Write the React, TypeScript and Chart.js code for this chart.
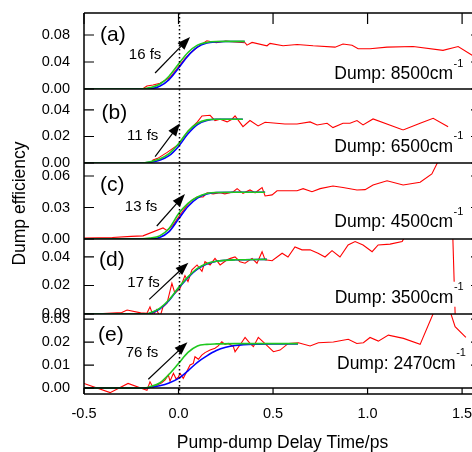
import React, { useEffect, useRef } from "react";
import { Chart, registerables } from "chart.js";

Chart.register(...registerables);

const FONT = '"Liberation Sans", Arial, Helvetica, sans-serif';

// ---------- axis ticks ----------
const xTicks = [-0.5, 0, 0.5, 1.0, 1.5];
const aTicks = [0, 0.04, 0.08];
const bTicks = [0, 0.02, 0.04];
const cTicks = [0, 0.03, 0.06];
const dTicks = [0, 0.02, 0.04];
const eTicks = [0, 0.01, 0.02, 0.03];

// ---------- text ----------
const panelLetters = ["(a)", "(b)", "(c)", "(d)", "(e)"];
const fitTimes = ["16 fs", "11 fs", "13 fs", "17 fs", "76 fs"];
const dumpLabels = ["Dump: 8500cm", "Dump: 6500cm", "Dump: 4500cm", "Dump: 3500cm", "Dump: 2470cm"];
const xTitle = "Pump-dump Delay Time/ps";
const yTitle = "Dump efficiency";

// ---------- panel (a) ----------
const aRedT = [-0.5,-0.45,-0.4,-0.35,-0.3,-0.26,-0.235,-0.21,-0.185,-0.167,-0.135,-0.098,-0.045,0,0.034,0.061,0.114,0.15,0.2,0.25,0.3,0.352,0.362,0.389,0.468,0.484,0.553,0.627,0.712,0.828,0.87,0.918,0.95,1.013,1.103,1.241,1.399,1.479,1.553,1.6];
const aRedV = [0,0.0002,0,0.0002,0,0.0002,-0.0018,-0.0022,0.001,0.0044,0.006,0.0084,0.017,0.033,0.045,0.053,0.065,0.0715,0.0686,0.071,0.0696,0.0686,0.065,0.069,0.064,0.0676,0.064,0.066,0.064,0.062,0.0666,0.0647,0.0597,0.0597,0.062,0.063,0.0573,0.063,0.05,0.045];
const aFitT = [-0.5,-0.2,-0.15,-0.1,-0.05,0,0.05,0.1,0.15,0.2,0.25,0.35];
const aGreenV = [0,0,0.002,0.007,0.019,0.037,0.054,0.065,0.069,0.0703,0.0705,0.0705];
const aBlueV = [0,0,0.0005,0.004,0.014,0.031,0.049,0.062,0.068,0.0698,0.0703,0.0703];

// ---------- panel (b) ----------
const bRedT = [-0.5,-0.45,-0.4,-0.35,-0.3,-0.26,-0.241,-0.22,-0.195,-0.168,-0.151,-0.135,-0.11,-0.06,0,0.05,0.1,0.124,0.167,0.193,0.22,0.257,0.283,0.299,0.341,0.378,0.421,0.458,0.563,0.627,0.696,0.733,0.786,0.817,0.87,0.907,0.944,0.976,1.029,1.188,1.278,1.347,1.426];
const bRedV = [0,0.0003,0,0.0002,0,0.0002,-0.0015,0,-0.002,0,-0.0015,0.0023,0.0035,0.008,0.014,0.024,0.031,0.0355,0.036,0.032,0.033,0.031,0.033,0.0355,0.0274,0.032,0.028,0.0307,0.0294,0.0294,0.031,0.0287,0.03,0.0267,0.03,0.03,0.032,0.0287,0.0332,0.0249,0.03,0.0337,0.0274];
const bFitT = [-0.5,-0.2,-0.15,-0.1,-0.05,0,0.05,0.1,0.15,0.2,0.34];
const bGreenV = [0,0,0.001,0.003,0.007,0.0145,0.024,0.03,0.0325,0.033,0.033];
const bBlueV = [0,0,0.0005,0.002,0.0055,0.0125,0.022,0.029,0.032,0.033,0.033];

// ---------- panel (c) ----------
const cRedT = [-0.5,-0.35,-0.25,-0.188,-0.082,-0.06,-0.03,0,0.045,0.071,0.098,0.13,0.151,0.183,0.22,0.245,0.272,0.29,0.31,0.341,0.378,0.405,0.442,0.458,0.495,0.521,0.627,0.659,0.706,0.749,0.817,0.87,0.944,0.987,1.029,1.103,1.188,1.278,1.34,1.39];
const cRedV = [0.001,0.0015,0.0025,0.003,0.0105,0.008,0.013,0.021,0.032,0.037,0.04,0.04,0.044,0.043,0.044,0.043,0.044,0.045,0.048,0.0435,0.0467,0.044,0.049,0.041,0.042,0.046,0.046,0.048,0.045,0.048,0.0505,0.049,0.0467,0.047,0.0514,0.0555,0.0514,0.054,0.062,0.08];
const cFitT = [-0.5,-0.2,-0.15,-0.1,-0.05,0,0.05,0.1,0.15,0.2,0.3,0.458];
const cGreenV = [0,0,0.0008,0.003,0.01,0.024,0.034,0.04,0.0433,0.0443,0.0445,0.0445];
const cBlueV = [0,0,0.0003,0.0015,0.007,0.019,0.031,0.039,0.043,0.0443,0.0445,0.0445];

// ---------- panel (d) ----------
const dRedT = [-0.5,-0.4,-0.3,-0.272,-0.2,-0.167,-0.151,-0.135,-0.116,-0.098,-0.082,-0.061,-0.035,-0.019,0.008,0.034,0.05,0.071,0.098,0.124,0.14,0.167,0.193,0.22,0.257,0.275,0.299,0.325,0.352,0.389,0.415,0.442,0.458,0.495,0.548,0.579,0.616,0.653,0.696,0.738,0.775,0.812,0.854,0.897,0.934,0.976,1.024,1.056,1.119,1.183,1.22,1.35,1.45,1.465,1.52];
const dRedV = [0,0.0003,0.001,0.0028,0.0008,0.0005,0.005,-0.001,0.003,-0.002,0.005,0.0075,0.0215,0.0145,0.018,0.027,0.0227,0.031,0.0344,0.03,0.0367,0.0344,0.039,0.0344,0.038,0.039,0.04,0.0367,0.0356,0.039,0.0356,0.0437,0.038,0.0374,0.0426,0.04,0.047,0.045,0.045,0.0426,0.04,0.0444,0.04,0.0484,0.0508,0.0484,0.0437,0.0484,0.049,0.0508,0.06,0.062,0.058,-0.008,-0.01];
const dFitT = [-0.5,-0.17,-0.15,-0.1,-0.05,0,0.05,0.1,0.15,0.2,0.3,0.467];
const dGreenV = [0,0,0.0008,0.004,0.01,0.0185,0.026,0.032,0.0355,0.037,0.038,0.0383];
const dBlueV = [0,0,0.0005,0.0035,0.0095,0.018,0.0255,0.0315,0.035,0.037,0.038,0.0383];

// ---------- panel (e) ----------
const eRedT = [-0.5,-0.362,-0.267,-0.167,-0.151,-0.135,-0.089,-0.071,-0.054,-0.045,-0.027,-0.013,-0.001,0.008,0.025,0.043,0.061,0.078,0.087,0.105,0.123,0.14,0.167,0.193,0.21,0.229,0.246,0.263,0.29,0.299,0.325,0.352,0.378,0.396,0.422,0.449,0.502,0.537,0.581,0.634,0.696,0.74,0.819,0.898,0.943,0.978,1.013,1.057,1.11,1.19,1.278,1.4,1.463,1.52];
const eRedV = [0.002,-0.002,0.002,-0.001,0.0027,0.0003,0.0023,0.0035,0.0057,0.003,0.0064,0.004,0.0047,0.0064,0.0042,0.0071,0.01,0.0107,0.0136,0.0125,0.0143,0.0154,0.0165,0.0173,0.0183,0.0201,0.019,0.0194,0.018,0.0158,0.0187,0.022,0.0194,0.018,0.022,0.02,0.0158,0.0165,0.0194,0.0197,0.0183,0.0197,0.02,0.0212,0.0194,0.0197,0.022,0.0204,0.023,0.0216,0.019,0.0426,0.0267,0.022];
const eGreenT = [-0.5,-0.18,-0.15,-0.1,-0.05,0,0.05,0.1,0.15,0.2,0.3,0.632];
const eGreenV = [0,0,0.0006,0.0022,0.006,0.0107,0.0155,0.0183,0.019,0.0192,0.0193,0.0193];
const eBlueT = [-0.5,-0.17,-0.15,-0.1,-0.05,0,0.05,0.1,0.15,0.2,0.25,0.3,0.4,0.5,0.632];
const eBlueV = [0,0,0.0003,0.001,0.0022,0.0042,0.0075,0.0112,0.014,0.0163,0.0177,0.0185,0.0191,0.0192,0.0192];

const pts = (t: number[], v: number[]) => t.map((x, i) => ({ x, y: v[i] }));

// annotation anchors in data coordinates of each panel
const annotations = [
  { arrow: [-0.124, 0.0237, 0.061, 0.077], fit: [-0.177, 0.0503], letter: [-0.415, 0.0792], dump: [1.452, 0.0148] },
  { arrow: [-0.124, 0.0048, 0.008, 0.030], fit: [-0.19, 0.0204], letter: [-0.407, 0.0378], dump: [1.452, 0.0085] },
  { arrow: [-0.115, 0.0124, 0.034, 0.0428], fit: [-0.198, 0.0305], letter: [-0.415, 0.0514], dump: [1.452, 0.0111] },
  { arrow: [-0.155, 0.0103, 0.052, 0.036], fit: [-0.185, 0.0221], letter: [-0.42, 0.0379], dump: [1.454, 0.0079] },
  { arrow: [-0.16, 0.0038, 0.047, 0.0199], fit: [-0.193, 0.0154], letter: [-0.426, 0.0231], dump: [1.466, 0.0083] },
];

const panels = [
  { id: "ya", min: 0, max: 0.1126, ticks: aTicks, h: 76, red: pts(aRedT, aRedV), green: pts(aFitT, aGreenV), blue: pts(aFitT, aBlueV) },
  { id: "yb", min: 0, max: 0.0558, ticks: bTicks, h: 74, red: pts(bRedT, bRedV), green: pts(bFitT, bGreenV), blue: pts(bFitT, bBlueV) },
  { id: "yc", min: 0, max: 0.0724, ticks: cTicks, h: 76, red: pts(cRedT, cRedV), green: pts(cFitT, cGreenV), blue: pts(cFitT, cBlueV) },
  { id: "yd", min: 0, max: 0.0526, ticks: dTicks, h: 75, red: pts(dRedT, dRedV), green: pts(dFitT, dGreenV), blue: pts(dFitT, dBlueV) },
  { id: "ye", min: -0.0026, max: 0.0322, ticks: eTicks, h: 80, red: pts(eRedT, eRedV), green: pts(eGreenT, eGreenV), blue: pts(eBlueT, eBlueV) },
];

function drawArrow(ctx: CanvasRenderingContext2D, x1: number, y1: number, x2: number, y2: number) {
  const ang = Math.atan2(y2 - y1, x2 - x1);
  const L = 13, W = 4.8;
  const bx = x2 - L * Math.cos(ang), by = y2 - L * Math.sin(ang);
  ctx.beginPath();
  ctx.moveTo(x1, y1);
  ctx.lineTo(bx + 2 * Math.cos(ang), by + 2 * Math.sin(ang));
  ctx.stroke();
  ctx.beginPath();
  ctx.moveTo(x2, y2);
  ctx.lineTo(bx + W * Math.sin(ang), by - W * Math.cos(ang));
  ctx.lineTo(bx - W * Math.sin(ang), by + W * Math.cos(ang));
  ctx.closePath();
  ctx.fill();
}

const decoPlugin = {
  id: "deco",
  afterDatasetsDraw(chart: any) {
    const { ctx, chartArea: ca, scales } = chart;
    const xs = scales.x;
    ctx.save();
    // dotted line at t = 0
    ctx.strokeStyle = "#000";
    ctx.lineWidth = 1.5;
    ctx.setLineDash([1.5, 2.5]);
    const x0 = Math.round(xs.getPixelForValue(0)) + 0.5;
    ctx.beginPath();
    ctx.moveTo(x0, ca.top);
    ctx.lineTo(x0, ca.bottom);
    ctx.stroke();
    ctx.setLineDash([]);

    // frame and zero lines
    ctx.lineWidth = 1.5;
    ctx.beginPath();
    ctx.moveTo(ca.left, ca.top); ctx.lineTo(ca.right, ca.top);
    ctx.moveTo(ca.left, ca.top); ctx.lineTo(ca.left, ca.bottom);
    ctx.moveTo(ca.right, ca.top); ctx.lineTo(ca.right, ca.bottom);
    ctx.moveTo(ca.left, ca.bottom); ctx.lineTo(ca.right, ca.bottom);
    panels.forEach((p) => {
      const y = scales[p.id].getPixelForValue(0);
      ctx.moveTo(ca.left, y); ctx.lineTo(ca.right, y);
    });
    ctx.stroke();

    // ticks
    ctx.lineWidth = 1.2;
    ctx.beginPath();
    panels.forEach((p) => {
      p.ticks.forEach((v) => {
        const y = scales[p.id].getPixelForValue(v);
        ctx.moveTo(ca.left, y); ctx.lineTo(ca.left + 10, y);
        ctx.moveTo(ca.right - 10, y); ctx.lineTo(ca.right, y);
      });
    });
    xTicks.forEach((t) => {
      const x = xs.getPixelForValue(t);
      ctx.moveTo(x, ca.top); ctx.lineTo(x, ca.top + 11);
      ctx.moveTo(x, ca.bottom); ctx.lineTo(x, ca.bottom - 6);
    });
    ctx.stroke();

    // annotations
    ctx.fillStyle = "#000";
    ctx.strokeStyle = "#000";
    panels.forEach((p, i) => {
      const ys = scales[p.id];
      const an = annotations[i];
      ctx.lineWidth = 1.2;
      drawArrow(ctx, xs.getPixelForValue(an.arrow[0]), ys.getPixelForValue(an.arrow[1]),
        xs.getPixelForValue(an.arrow[2]), ys.getPixelForValue(an.arrow[3]));

      ctx.font = `15px ${FONT}`;
      ctx.textAlign = "center";
      ctx.textBaseline = "middle";
      ctx.fillText(fitTimes[i], xs.getPixelForValue(an.fit[0]), ys.getPixelForValue(an.fit[1]));

      ctx.font = `21px ${FONT}`;
      ctx.textAlign = "left";
      ctx.fillText(panelLetters[i], xs.getPixelForValue(an.letter[0]), ys.getPixelForValue(an.letter[1]));

      const dx = xs.getPixelForValue(an.dump[0]);
      const dy = ys.getPixelForValue(an.dump[1]);
      ctx.font = `17.5px ${FONT}`;
      const w = ctx.measureText(dumpLabels[i]).width;
      ctx.font = `11px ${FONT}`;
      const sw = ctx.measureText("-1").width;
      ctx.fillStyle = "#fff";
      ctx.fillRect(dx - w - 2, dy - 21, w + sw + 5, 25);
      ctx.fillStyle = "#000";
      ctx.font = `17.5px ${FONT}`;
      ctx.textAlign = "right";
      ctx.textBaseline = "alphabetic";
      ctx.fillText(dumpLabels[i], dx, dy);
      ctx.font = `11px ${FONT}`;
      ctx.textAlign = "left";
      ctx.fillText("-1", dx + 0.5, dy - 12.5);
    });

    // axis titles
    ctx.font = `17.5px ${FONT}`;
    ctx.textAlign = "center";
    ctx.textBaseline = "alphabetic";
    ctx.fillText(xTitle, (ca.left + ca.right) / 2, ca.bottom + 54);
    ctx.translate(12, (ca.top + ca.bottom) / 2);
    ctx.rotate(-Math.PI / 2);
    ctx.textBaseline = "middle";
    ctx.fillText(yTitle, 0, 0);
    ctx.restore();
  },
};

export default function App() {
  const ref = useRef<HTMLCanvasElement | null>(null);
  useEffect(() => {
    if (!ref.current) return;
    const datasets: any[] = [];
    panels.forEach((p) => {
      datasets.push({ data: p.green, yAxisID: p.id, borderColor: "#1fc81f", borderWidth: 1.6, pointRadius: 0, cubicInterpolationMode: "monotone", order: 1 });
      datasets.push({ data: p.blue, yAxisID: p.id, borderColor: "#0000ff", borderWidth: 1.6, pointRadius: 0, cubicInterpolationMode: "monotone", order: 2 });
      datasets.push({ data: p.red, yAxisID: p.id, borderColor: "#ff0000", borderWidth: 1.1, pointRadius: 0, tension: 0, order: 3 });
    });
    const scales: any = {
      x: {
        type: "linear",
        position: "bottom",
        min: -0.5,
        max: 1.6,
        grid: { display: false },
        border: { display: false },
        afterBuildTicks: (s: any) => { s.ticks = xTicks.map((value) => ({ value })); },
        afterFit: (s: any) => { s.height = 58; s.paddingLeft = 0; s.paddingRight = 0; },
        ticks: {
          autoSkip: false,
          maxRotation: 0,
          padding: 3,
          color: "#000",
          font: { family: FONT, size: 14.5 },
          callback: (v: any) => Number(v).toFixed(1),
        },
      },
    };
    panels.forEach((p, i) => {
      scales[p.id] = {
        type: "linear",
        position: "left",
        stack: "panels",
        stackWeight: p.h,
        weight: 10 - i,
        min: p.min,
        max: p.max,
        grid: { display: false },
        border: { display: false },
        afterBuildTicks: (s: any) => { s.ticks = p.ticks.map((value) => ({ value })); },
        afterFit: (s: any) => { s.width = 76; s.paddingTop = 0; s.paddingBottom = 0; },
        ticks: {
          autoSkip: false,
          padding: 6,
          color: "#000",
          font: { family: FONT, size: 14.5 },
          callback: (v: any) => Number(v).toFixed(2),
        },
      };
    });
    const chart = new Chart(ref.current, {
      type: "line",
      data: { datasets },
      options: {
        animation: false,
        responsive: false,
        devicePixelRatio: 1,
        layout: { padding: { top: 5, left: 0, right: 7, bottom: 0 } },
        plugins: { legend: { display: false }, tooltip: { enabled: false } },
        scales,
      },
      plugins: [decoPlugin],
    });
    return () => chart.destroy();
  }, []);
  return (
    <div style={{ position: "fixed", left: 8, top: 8, width: 464, height: 444, overflow: "hidden" }}>
      <canvas ref={ref} width={480} height={444} style={{ display: "block" }} />
    </div>
  );
}
